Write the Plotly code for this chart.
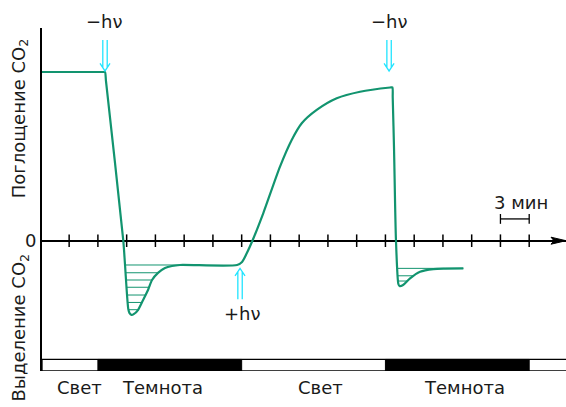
import numpy as np
import plotly.graph_objects as go

# ---- data (time in minutes, CO2 exchange rate in arbitrary units) ----
time_min = [0.17, 6.6, 6.74, 6.84, 8.65, 8.83, 9.17, 9.30, 9.51, 9.77, 10.18, 10.71, 11.23,
            11.65, 12.27, 13.0, 13.73, 14.56, 20.52, 21.04, 21.53, 22.11, 23.26, 25.0,
            26.22, 27.27, 28.83, 30.92, 33.35, 36.5, 36.72, 36.76, 36.9, 37.1, 37.35,
            37.47, 37.84, 38.57, 39.61, 41.0, 42.22, 44.13]
co2_rate = [10.0, 10.0, 10.0, 9.48, 0.0, -1.44, -4.05, -4.29, -4.40, -4.34, -4.11, -3.52, -2.92,
            -2.33, -1.91, -1.62, -1.50, -1.44, -1.44, -1.26, -0.75, -0.02, 1.64, 4.39,
            5.97, 6.96, 7.75, 8.44, 8.83, 9.08, 9.09, 8.5, 5.38, 0.0, -2.57,
            -2.69, -2.63, -2.23, -1.84, -1.68, -1.65, -1.64]

dip_windows = [(6.74, 14.56), (36.72, 44.13)]
hatch_levels = [[-1.44, -1.90, -2.33, -2.76, -3.22, -3.66, -4.09],
                [-1.64, -2.08, -2.39]]

tick_times = list(range(3, 52, 3))
dark_periods = [(6, 21), (36, 51)]
phase_labels = ["Свет", "Темнота", "Свет", "Темнота"]
phase_label_x = [4.03, 12.69, 29.26, 44.2]
light_off_times = [6.74, 36.38]
light_on_times = [20.83]
scale_bar = [48, 51]

X_RANGE = [0.167, 54.84]
Y_RANGE = [-7.724, 12.608]
GREEN = "#12946f"
CYAN = "#22e4ff"
FONT = "DejaVu Sans, Liberation Sans, Arial, sans-serif"


def xp(tv):
    return (tv - X_RANGE[0]) / (X_RANGE[1] - X_RANGE[0])


def yp(vv):
    return (vv - Y_RANGE[0]) / (Y_RANGE[1] - Y_RANGE[0])


t = np.array(time_min)
v = np.array(co2_rate)

fig = go.Figure()

# hatch lines inside the dark-period dips
for (ta, tb), levels in zip(dip_windows, hatch_levels):
    m = (t >= ta) & (t <= tb)
    ts, vs = t[m], v[m]
    i0 = int(np.argmin(vs))
    lt, lv = ts[:i0 + 1][::-1], vs[:i0 + 1][::-1]
    rt, rv = ts[i0:], vs[i0:]
    hx, hy = [], []
    for h in levels:
        hx += [float(np.interp(h, lv, lt)), float(np.interp(h, rv, rt)), None]
        hy += [h, h, None]
    fig.add_trace(go.Scatter(x=hx, y=hy, mode="lines",
                             line=dict(color=GREEN, width=1), hoverinfo="skip"))

# main curve
fig.add_trace(go.Scatter(x=time_min, y=co2_rate, mode="lines",
                         line=dict(color=GREEN, width=2.2, shape="spline", smoothing=0.7),
                         hoverinfo="skip"))

# ticks crossing the time axis
fig.add_trace(go.Scatter(x=tick_times, y=[0] * len(tick_times), mode="markers",
                         marker=dict(symbol="line-ns", size=9,
                                     line=dict(color="black", width=1.5)),
                         hoverinfo="skip", cliponaxis=False))

# 3-min scale bar
fig.add_trace(go.Scatter(x=scale_bar, y=[1.29, 1.29], mode="lines+markers",
                         line=dict(color="black", width=1.3),
                         marker=dict(symbol="line-ns", size=7,
                                     line=dict(color="black", width=1.3)),
                         hoverinfo="skip"))

shapes = []
# light/dark bar
shapes.append(dict(type="rect", xref="paper", yref="y", x0=0, x1=1.01, y0=-7.724, y1=-7.04,
                   line=dict(color="black", width=1.3), fillcolor="white", layer="above"))
for a, b in dark_periods:
    shapes.append(dict(type="rect", xref="x", yref="y", x0=a, x1=b, y0=-7.724, y1=-7.04,
                       line=dict(color="black", width=1), fillcolor="black", layer="above"))

# axis arrowhead
shapes.append(dict(type="path", xref="x", yref="y", xsizemode="pixel", ysizemode="pixel",
                   xanchor=X_RANGE[1], yanchor=0,
                   path="M -15,3.5 L 0,0 L -15,-3.5 L -12,0 Z",
                   fillcolor="black", line=dict(color="black", width=1)))

# double cyan arrows
down_arrow = "M -2.2,3 L -2.2,31 M 2.2,3 L 2.2,31 M -5,7.5 L 0,0 L 5,7.5"
up_arrow = "M -2.2,-3 L -2.2,-31 M 2.2,-3 L 2.2,-31 M -5,-7.5 L 0,0 L 5,-7.5"
for tt in light_off_times:
    shapes.append(dict(type="path", xref="x", yref="y", xsizemode="pixel", ysizemode="pixel",
                       xanchor=tt, yanchor=10.06, path=down_arrow,
                       line=dict(color=CYAN, width=1.3)))
for tt in light_on_times:
    shapes.append(dict(type="path", xref="x", yref="y", xsizemode="pixel", ysizemode="pixel",
                       xanchor=tt, yanchor=-1.64, path=up_arrow,
                       line=dict(color=CYAN, width=1.3)))

ann = []
tf = dict(family=FONT, size=18, color="#1a1a1a")


def label(x, y, text, angle=0):
    ann.append(dict(xref="paper", yref="paper", x=xp(x), y=yp(y), text=text,
                    showarrow=False, font=tf, textangle=angle,
                    xanchor="center", yanchor="middle"))


for txt, x in zip(phase_labels, phase_label_x):
    label(x, -8.73, txt)
for tt in light_off_times:
    label(tt, 13.02, "−hν")
for tt in light_on_times:
    label(tt + 0.26, -4.29, "+hν")
label(50.15, 2.29, "3 мин")
label(-1.0, 0, "0")
label(-2.13, 7.25, "Поглощение CO<sub>2</sub>", -90)
label(-2.13, -5.15, "Выделение CO<sub>2</sub>", -90)

fig.update_layout(
    width=566, height=407,
    margin=dict(l=42, r=0, t=28, b=36),
    paper_bgcolor="white", plot_bgcolor="white",
    showlegend=False,
    xaxis=dict(range=X_RANGE, visible=True, showgrid=False, zeroline=False,
               showticklabels=False, ticks="", showline=False, fixedrange=True),
    yaxis=dict(range=Y_RANGE, showgrid=False, zeroline=True, zerolinecolor="black",
               zerolinewidth=1.5, showticklabels=False, ticks="", showline=True,
               linecolor="black", linewidth=1.5, fixedrange=True),
    shapes=shapes, annotations=ann,
)

fig.write_html("out.html", config={"displayModeBar": False},
               post_script="document.body.style.margin='0';document.body.style.padding='0';")
